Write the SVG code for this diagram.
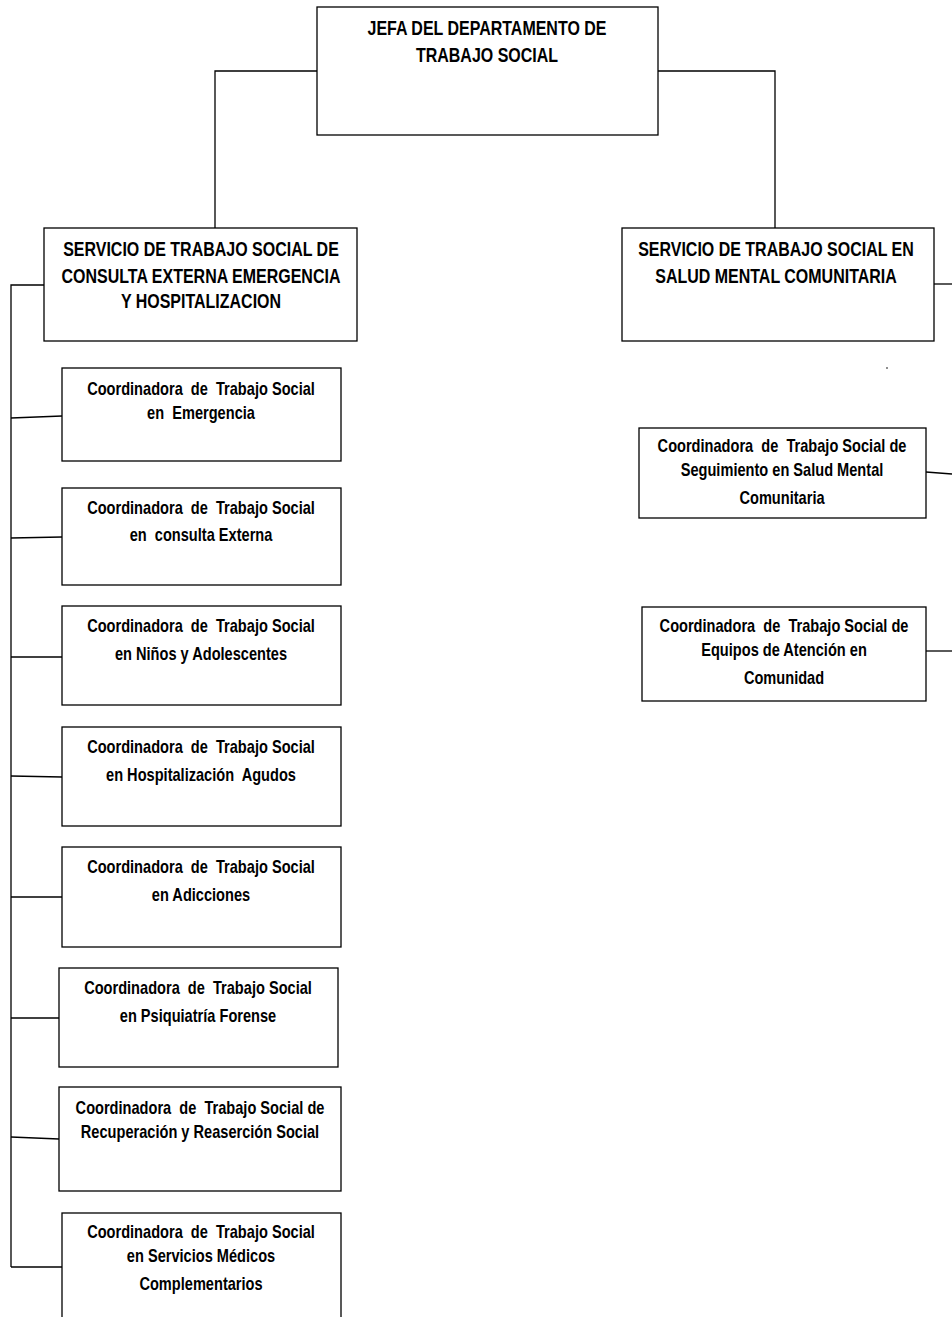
<svg xmlns="http://www.w3.org/2000/svg" width="952" height="1317" viewBox="0 0 952 1317">
<style>
.box{fill:#fff;stroke:#000;stroke-width:1.3}
.ln{fill:none;stroke:#000;stroke-width:1.3}
text{font-family:"Liberation Sans","Arial",sans-serif;font-weight:bold;text-anchor:middle;fill:#000;white-space:pre}
.h{font-size:19.5px}
.c{font-size:17.8px}
</style>
<rect width="952" height="1317" fill="#fff"/>
<g id="connectors">
<polyline class="ln" points="317,71 215,71 215,228"/>
<polyline class="ln" points="658,71 775,71 775,228"/>
<polyline class="ln" points="44,285 11,285 11,1267"/>
<line class="ln" x1="11" y1="418" x2="62" y2="416"/>
<line class="ln" x1="11" y1="538" x2="62" y2="537"/>
<line class="ln" x1="11" y1="657" x2="62" y2="657"/>
<line class="ln" x1="11" y1="776" x2="62" y2="777"/>
<line class="ln" x1="11" y1="897" x2="62" y2="897"/>
<line class="ln" x1="11" y1="1018" x2="59" y2="1018"/>
<line class="ln" x1="11" y1="1137" x2="59" y2="1139"/>
<line class="ln" x1="11" y1="1267" x2="62" y2="1267"/>
<line class="ln" x1="934" y1="284" x2="952" y2="284"/>
<line class="ln" x1="926" y1="472" x2="952" y2="474"/>
<line class="ln" x1="926" y1="651" x2="952" y2="651"/>
</g>
<g id="jefa">
<rect class="box" x="317" y="7" width="341" height="128"/>
<text class="h" transform="translate(487 35) scale(0.82 1)">JEFA DEL DEPARTAMENTO DE</text>
<text class="h" transform="translate(487 62) scale(0.82 1)">TRABAJO SOCIAL</text>
</g>
<g id="servicio-consulta">
<rect class="box" x="44" y="228" width="313" height="113"/>
<text class="h" transform="translate(201 256) scale(0.82 1)">SERVICIO DE TRABAJO SOCIAL DE</text>
<text class="h" transform="translate(201 283) scale(0.82 1)">CONSULTA EXTERNA EMERGENCIA</text>
<text class="h" transform="translate(201 308) scale(0.82 1)">Y HOSPITALIZACION</text>
</g>
<g id="servicio-salud-mental">
<rect class="box" x="622" y="228" width="312" height="113"/>
<text class="h" transform="translate(776 256) scale(0.82 1)">SERVICIO DE TRABAJO SOCIAL EN</text>
<text class="h" transform="translate(776 283) scale(0.82 1)">SALUD MENTAL COMUNITARIA</text>
</g>
<circle cx="887" cy="368" r="0.8" fill="#000"/>
<g id="coord-emergencia">
<rect class="box" x="62" y="368" width="279" height="93"/>
<text class="c" transform="translate(201 395) scale(0.82 1)">Coordinadora  de  Trabajo Social</text>
<text class="c" transform="translate(201 419) scale(0.82 1)">en  Emergencia</text>
</g>
<g id="coord-consulta">
<rect class="box" x="62" y="488" width="279" height="97"/>
<text class="c" transform="translate(201 514) scale(0.82 1)">Coordinadora  de  Trabajo Social</text>
<text class="c" transform="translate(201 541) scale(0.82 1)">en  consulta Externa</text>
</g>
<g id="coord-ninos">
<rect class="box" x="62" y="606" width="279" height="99"/>
<text class="c" transform="translate(201 632) scale(0.82 1)">Coordinadora  de  Trabajo Social</text>
<text class="c" transform="translate(201 660) scale(0.82 1)">en Niños y Adolescentes</text>
</g>
<g id="coord-hospitalizacion">
<rect class="box" x="62" y="727" width="279" height="99"/>
<text class="c" transform="translate(201 753) scale(0.82 1)">Coordinadora  de  Trabajo Social</text>
<text class="c" transform="translate(201 781) scale(0.82 1)">en Hospitalización  Agudos</text>
</g>
<g id="coord-adicciones">
<rect class="box" x="62" y="847" width="279" height="100"/>
<text class="c" transform="translate(201 873) scale(0.82 1)">Coordinadora  de  Trabajo Social</text>
<text class="c" transform="translate(201 901) scale(0.82 1)">en Adicciones</text>
</g>
<g id="coord-forense">
<rect class="box" x="59" y="968" width="279" height="99"/>
<text class="c" transform="translate(198 994) scale(0.82 1)">Coordinadora  de  Trabajo Social</text>
<text class="c" transform="translate(198 1022) scale(0.82 1)">en Psiquiatría Forense</text>
</g>
<g id="coord-recuperacion">
<rect class="box" x="59" y="1087" width="282" height="104"/>
<text class="c" transform="translate(200 1114) scale(0.82 1)">Coordinadora  de  Trabajo Social de</text>
<text class="c" transform="translate(200 1138) scale(0.82 1)">Recuperación y Reaserción Social</text>
</g>
<g id="coord-servicios-medicos">
<rect class="box" x="62" y="1213" width="279" height="120"/>
<text class="c" transform="translate(201 1238) scale(0.82 1)">Coordinadora  de  Trabajo Social</text>
<text class="c" transform="translate(201 1262) scale(0.82 1)">en Servicios Médicos</text>
<text class="c" transform="translate(201 1290) scale(0.82 1)">Complementarios</text>
</g>
<g id="coord-seguimiento">
<rect class="box" x="639" y="428" width="287" height="90"/>
<text class="c" transform="translate(782 452) scale(0.82 1)">Coordinadora  de  Trabajo Social de</text>
<text class="c" transform="translate(782 476) scale(0.82 1)">Seguimiento en Salud Mental</text>
<text class="c" transform="translate(782 504) scale(0.82 1)">Comunitaria</text>
</g>
<g id="coord-equipos">
<rect class="box" x="642" y="607" width="284" height="94"/>
<text class="c" transform="translate(784 632) scale(0.82 1)">Coordinadora  de  Trabajo Social de</text>
<text class="c" transform="translate(784 656) scale(0.82 1)">Equipos de Atención en</text>
<text class="c" transform="translate(784 684) scale(0.82 1)">Comunidad</text>
</g>
</svg>
